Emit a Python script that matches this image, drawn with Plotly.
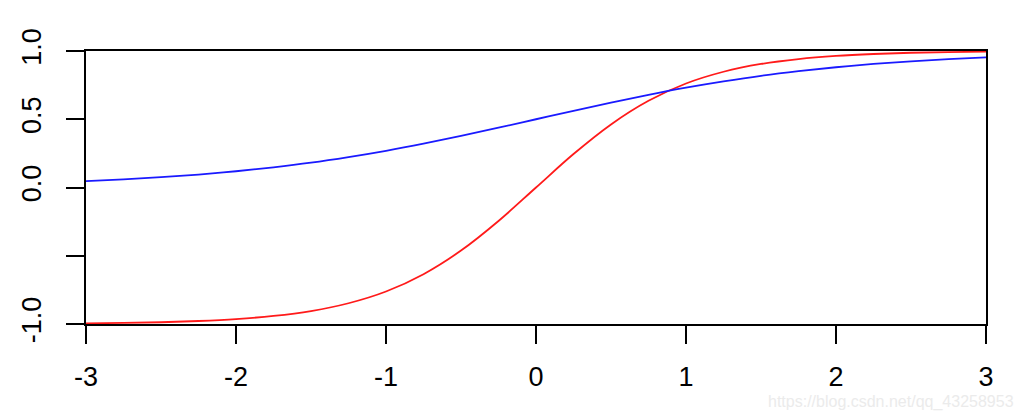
import plotly.graph_objects as go

# x positions (step 0.25) and curve values
x_vals = [-3.0, -2.75, -2.5, -2.25, -2.0, -1.75, -1.5, -1.25, -1.0, -0.75, -0.5, -0.25,
          0.0, 0.25, 0.5, 0.75, 1.0, 1.25, 1.5, 1.75, 2.0, 2.25, 2.5, 2.75, 3.0]
red_vals = [-0.995, -0.992, -0.987, -0.978, -0.964, -0.941, -0.905, -0.848, -0.762, -0.635,
            -0.462, -0.245, 0.0, 0.245, 0.462, 0.635, 0.762, 0.848, 0.905, 0.941, 0.964,
            0.978, 0.987, 0.992, 0.995]
blue_vals = [0.047, 0.060, 0.076, 0.095, 0.119, 0.148, 0.182, 0.223, 0.269, 0.321, 0.378,
             0.438, 0.5, 0.562, 0.622, 0.679, 0.731, 0.777, 0.818, 0.852, 0.881, 0.905,
             0.924, 0.940, 0.953]

x_ticks = [-3, -2, -1, 0, 1, 2, 3]
y_ticks = [-1.0, -0.5, 0.0, 0.5, 1.0]
y_labels = ["-1.0", "", "0.0", "0.5", "1.0"]

font = dict(family="Liberation Sans, Arial, sans-serif", size=27, color="black")

# page body has an 8px default margin, so shrink the figure to fit the window
W, H = 1016, 411
L, R, T, B = 78, 38, 43, 95
plot_w, plot_h = W - L - R, H - T - B

fig = go.Figure()
fig.add_trace(go.Scatter(x=x_vals, y=red_vals, mode="lines", line_shape="spline",
                         line=dict(color="#ff1a1a", width=1.8), showlegend=False))
fig.add_trace(go.Scatter(x=x_vals, y=blue_vals, mode="lines", line_shape="spline",
                         line=dict(color="#1a1aff", width=1.8), showlegend=False))

fig.update_layout(
    width=W, height=H,
    margin=dict(l=L, r=R, t=T, b=B),
    plot_bgcolor="white", paper_bgcolor="white",
    font=font,
    annotations=[dict(
        # watermark, right edge ~29px right of the plot, ~78px below it
        x=1 + 30 / plot_w, y=-78 / plot_h, xref="paper", yref="paper",
        xanchor="right", yanchor="middle",
        text="https://blog.csdn.net/qq_43258953", showarrow=False,
        font=dict(size=16, color="#ebebeb", family="Liberation Sans, Arial"),
    )],
)

fig.update_xaxes(range=[-3, 3], tickvals=x_ticks, ticktext=[str(t) for t in x_ticks],
                 showgrid=False, zeroline=False, showline=True, mirror=True,
                 linecolor="black", linewidth=1.5, ticks="outside", ticklen=18,
                 tickwidth=1.5, tickcolor="black", ticklabelstandoff=10, automargin=False)
fig.update_yaxes(range=[-1, 1], tickvals=y_ticks, ticktext=y_labels, tickangle=-90,
                 showgrid=False, zeroline=False, showline=True, mirror=True,
                 linecolor="black", linewidth=1.5, ticks="outside", ticklen=18,
                 tickwidth=1.5, tickcolor="black", ticklabelstandoff=14, automargin=False)

fig.write_html("out.html")
